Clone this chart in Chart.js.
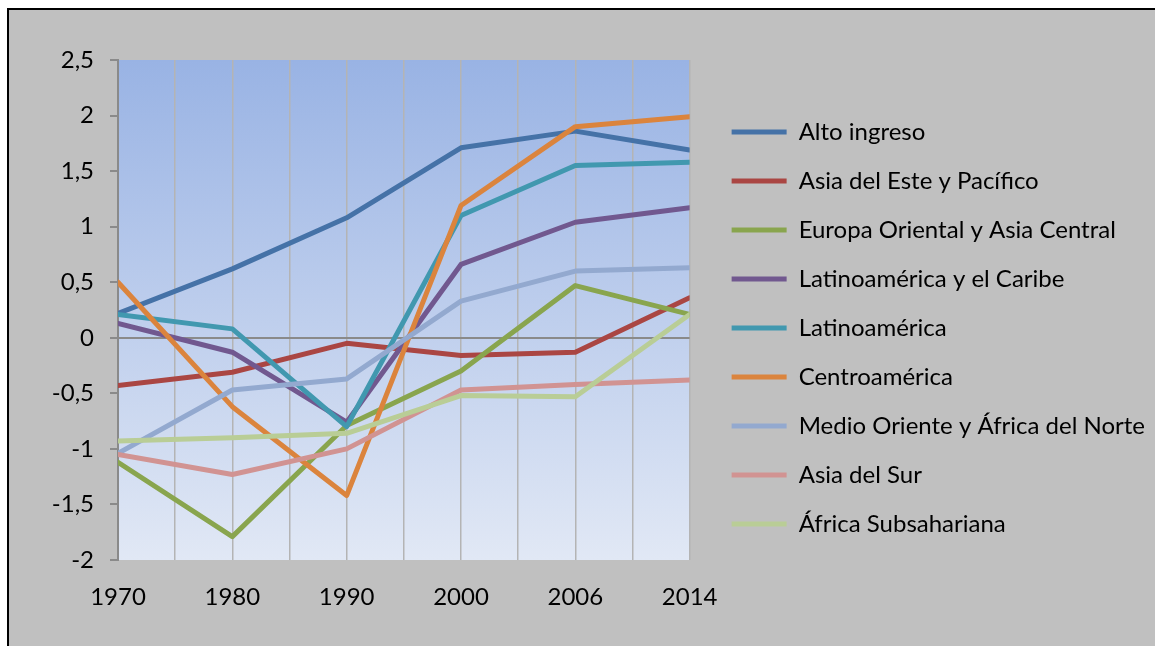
<!DOCTYPE html>
<html>
<head>
<meta charset="utf-8">
<script src="https://cdn.jsdelivr.net/npm/chart.js@4.4.1/dist/chart.umd.min.js"></script>
<style>
  html, body { margin: 0; padding: 0; background: #fff; }
  #marco {
    position: absolute; left: 7px; top: 8px; width: 1150px; height: 640px;
    background: #c0c0c0; border-left: 2px solid #000; border-top: 2px solid #000;
  }
  #lienzo { position: absolute; left: 9px; top: 10px; }
</style>
</head>
<body>
<div id="marco"></div>
<canvas id="lienzo" width="1146" height="636"></canvas>
<script>
const anios = ['1970', '1980', '1990', '2000', '2006', '2014'];
const regiones = [
    'Alto ingreso',
    'Asia del Este y Pacífico',
    'Europa Oriental y Asia Central',
    'Latinoamérica y el Caribe',
    'Latinoamérica',
    'Centroamérica',
    'Medio Oriente y África del Norte',
    'Asia del Sur',
    'África Subsahariana'
];
const altoIngreso      = [0.22, 0.62, 1.08, 1.71, 1.86, 1.69];
const asiaEste         = [-0.43, -0.31, -0.05, -0.16, -0.13, 0.36];
const europaOriental   = [-1.12, -1.79, -0.79, -0.30, 0.47, 0.21];
const latamCaribe      = [0.13, -0.13, -0.76, 0.66, 1.04, 1.17];
const latinoamerica    = [0.21, 0.08, -0.80, 1.10, 1.55, 1.58];
const centroamerica    = [0.50, -0.62, -1.42, 1.19, 1.90, 1.99];
const medioOriente     = [-1.04, -0.47, -0.37, 0.33, 0.60, 0.63];
const asiaSur          = [-1.05, -1.23, -1.00, -0.47, -0.42, -0.38];
const africaSub        = [-0.93, -0.90, -0.86, -0.52, -0.53, 0.21];

const series = [altoIngreso, asiaEste, europaOriental, latamCaribe, latinoamerica,
                centroamerica, medioOriente, asiaSur, africaSub];
const colores = ['#4572A7', '#AA4643', '#89A54E', '#71588F', '#4198AF',
                 '#DB843D', '#93A9CF', '#D19392', '#B9CD96'];

const fuente = 'Lato, "Open Sans", sans-serif';

const datasets = series.map((valores, i) => ({
    label: regiones[i],
    data: valores.map((v, j) => ({ x: j, y: v })),
    borderColor: colores[i],
    backgroundColor: colores[i],
    borderWidth: 5,
    borderCapStyle: 'round',
    borderJoinStyle: 'round',
    pointRadius: 0,
    tension: 0,
    order: series.length - i
}));

// fondo degradado del área de trazado
const fondo = {
    id: 'fondo',
    beforeDraw(chart) {
        const a = chart.chartArea;
        const ctx = chart.ctx;
        const g = ctx.createLinearGradient(0, a.top, 0, a.bottom);
        g.addColorStop(0, '#99b3e4');
        g.addColorStop(1, '#e1e8f5');
        ctx.save();
        ctx.fillStyle = g;
        ctx.fillRect(a.left, a.top, a.right - a.left, a.bottom - a.top);
        ctx.restore();
    }
};

// ejes vacíos que sólo reservan espacio
const hueco = (pos, tam) => ({
    type: 'linear',
    position: pos,
    afterFit(scale) {
        if (pos === 'top') scale.height = tam; else scale.width = tam;
    },
    ticks: { display: false },
    grid: { display: false },
    border: { display: false }
});

new Chart(document.getElementById('lienzo'), {
    type: 'line',
    data: { datasets: datasets },
    plugins: [fondo],
    options: {
        responsive: false,
        animation: false,
        layout: { padding: 0 },
        plugins: {
            legend: {
                position: 'right',
                reverse: true,
                maxWidth: 700,
                labels: {
                    usePointStyle: true,
                    pointStyle: 'line',
                    pointStyleWidth: 55,
                    padding: 25,
                    color: '#000',
                    font: { family: fuente, size: 24 }
                }
            },
            tooltip: { enabled: false }
        },
        scales: {
            x: {
                type: 'linear',
                min: 0,
                max: 5,
                afterFit(scale) { scale.height = 86; },
                afterBuildTicks(scale) {
                    const t = [];
                    for (let k = 0; k <= 10; k++) t.push({ value: k / 2 });
                    scale.ticks = t;
                },
                ticks: {
                    autoSkip: false,
                    maxRotation: 0,
                    padding: 23,
                    color: '#000',
                    font: { family: fuente, size: 24 },
                    callback: v => Number.isInteger(v) ? anios[v] : ''
                },
                grid: { color: '#b4b4b4', lineWidth: 1.5, drawTicks: false },
                border: { display: false }
            },
            y: {
                min: -2,
                max: 2.5,
                afterFit(scale) { scale.width = 109; },
                ticks: {
                    stepSize: 0.5,
                    padding: 16,
                    color: '#000',
                    font: { family: fuente, size: 24 },
                    callback: v => String(v).replace('.', ',')
                },
                grid: {
                    color: c => c.tick && c.tick.value === 0 ? '#8a8a8a' : 'rgba(0,0,0,0)',
                    tickColor: '#8a8a8a',
                    tickLength: 8,
                    lineWidth: 2
                },
                border: { color: '#8a8a8a', width: 2 }
            },
            derecha: hueco('right', 17),
            arriba: hueco('top', 50)
        }
    }
});
</script>
</body>
</html>
